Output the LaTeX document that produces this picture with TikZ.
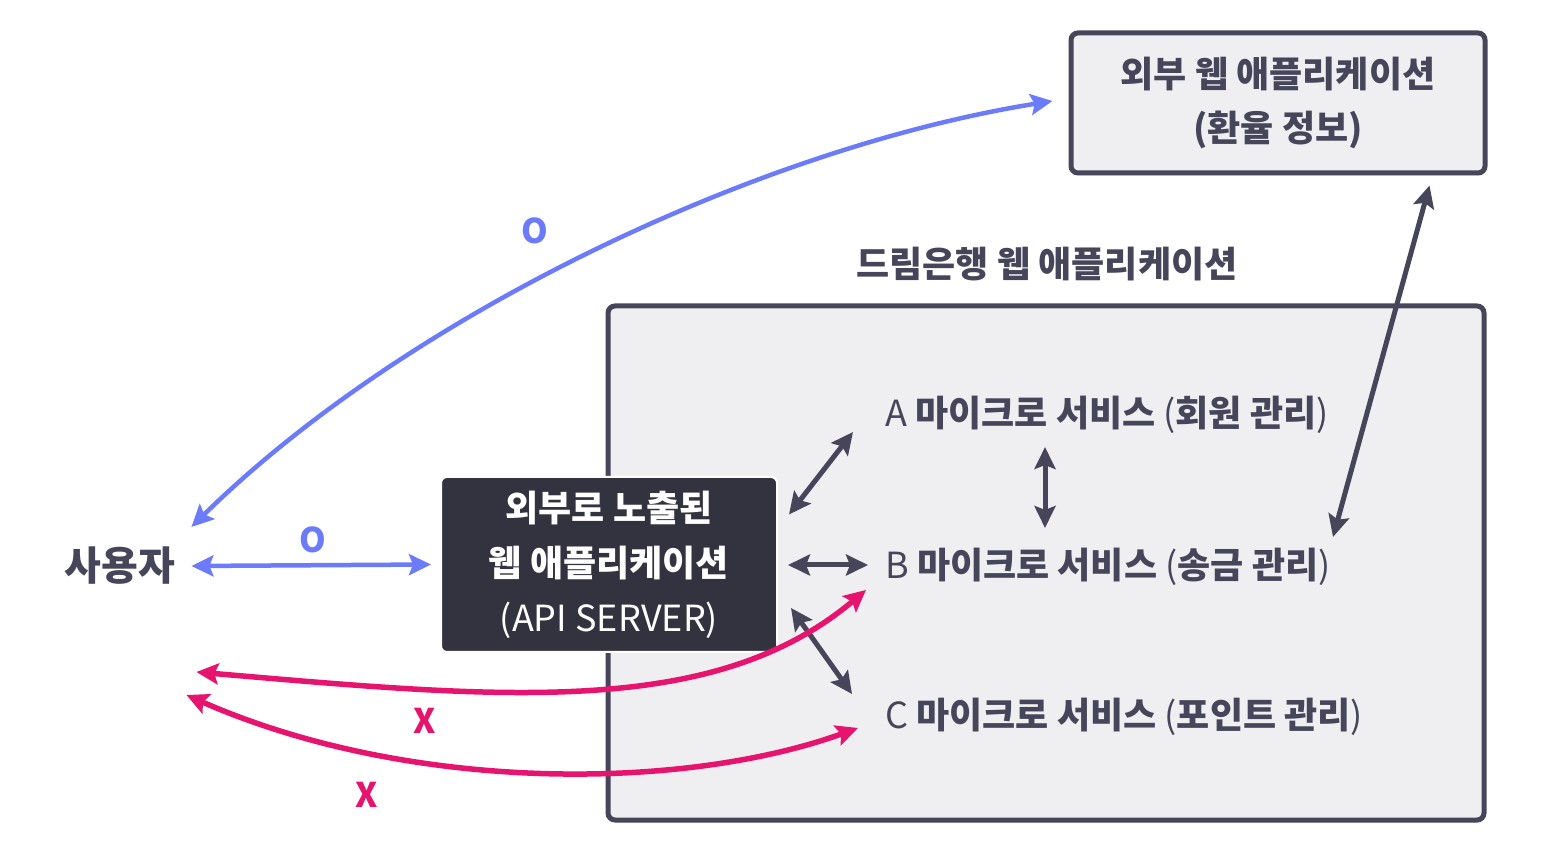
\documentclass[tikz,border=0pt]{standalone}
\usepackage{fontspec}
\setmainfont{Noto Sans CJK KR}
\usetikzlibrary{arrows.meta,positioning,shadows}

\definecolor{ink}{HTML}{46455A}
\definecolor{panel}{HTML}{EFEFF2}
\definecolor{night}{HTML}{33323F}
\definecolor{okblue}{HTML}{6B7BFA}
\definecolor{nored}{HTML}{E6146E}

\tikzset{
  tip/.style={{Stealth[length=22pt,width=21pt,inset=4pt]}-{Stealth[length=22pt,width=21pt,inset=4pt]}},
  box/.style={draw=ink, line width=5pt, fill=panel, rounded corners=7pt,
    drop shadow={shadow xshift=1pt, shadow yshift=-3pt, opacity=0.12}},
  svc/.style={anchor=west, inner sep=0pt, text=ink, font=\fontsize{36}{44}\selectfont\bfseries},
  link/.style={tip, draw=ink, line width=5pt},
  okline/.style={tip, draw=okblue, line width=4.5pt},
  noline/.style={tip, draw=nored, line width=5.5pt},
  verdict/.style={font=\fontsize{34}{40}\selectfont\bfseries},
}

\begin{document}
\begin{tikzpicture}[x=1pt,y=1pt]
\useasboundingbox (0,0) rectangle (1548,852);

% boxes
\node[box, minimum width=876pt, minimum height=514pt] (bank) at (1046,289) {};
\node[box, minimum width=414pt, minimum height=140pt, align=center, text=ink,
  font=\fontsize{36}{54}\selectfont\bfseries] (ext) at (1278,749)
  {외부 웹 애플리케이션\\(환율 정보)};
\node[font=\fontsize{36}{44}\selectfont\bfseries, text=ink] (title) at (1047,588) {드림은행 웹 애플리케이션};

\node[fill=night, draw=white, line width=2pt, rounded corners=6pt,
  minimum width=336pt, minimum height=175pt, align=center, text=white,
  font=\fontsize{36}{55}\selectfont\bfseries] (api) at (609,287.5)
  {외부로 노출된\\웹 애플리케이션\\{\mdseries (API SERVER)}};

\node[font=\fontsize{40}{48}\selectfont\bfseries, text=ink, inner sep=0pt] (user) at (120,286) {사용자};

\node[svc] (svcA) at (885,437) {{\mdseries A} 마이크로 서비스 {\mdseries(}회원 관리{\mdseries)}};
\node[svc] (svcB) at (885,285) {{\mdseries B} 마이크로 서비스 {\mdseries(}송금 관리{\mdseries)}};
\node[svc] (svcC) at (885,135) {{\mdseries C} 마이크로 서비스 {\mdseries(}포인트 관리{\mdseries)}};

% inside the bank
\draw[link] ([shift={(11,50)}]api.east) -- ([shift={(-32,-17)}]svcA.west);
\draw[link] ([shift={(10,-0.5)}]api.east) -- ([shift={(-17,2)}]svcB.west);
\draw[link] ([shift={(13,-43.5)}]api.east) -- ([shift={(-33,23)}]svcC.west);
\draw[link] ([shift={(160,-32)}]svcA.west) -- ([shift={(160,39)}]svcB.west);
\draw[link] ([shift={(-58,-10)}]ext.south east) -- ([shift={(448,30)}]svcB.west);

% user side
\draw[okline] ([xshift=16pt]user.east) -- ([xshift=-9pt]api.west);
\node[verdict, text=okblue] (ok1) at (313,312) {O};
\draw[okline] ([shift={(16,39)}]user.east) .. controls (407,537) and (759,704) .. ([shift={(-16,2)}]ext.west);
\node[verdict, text=okblue] (ok2) at (535,621) {O};

\draw[noline] ([shift={(21,-106)}]user.east) .. controls (499,154) and (713,133) .. ([shift={(-19,-23)}]svcB.west);
\node[verdict, text=nored] (no1) at (425,131) {X};
\draw[noline] ([shift={(11,-129)}]user.east) .. controls (407,60) and (680,60) .. ([shift={(-27,-11)}]svcC.west);
\node[verdict, text=nored] (no2) at (367,57) {X};
\end{tikzpicture}
\end{document}
